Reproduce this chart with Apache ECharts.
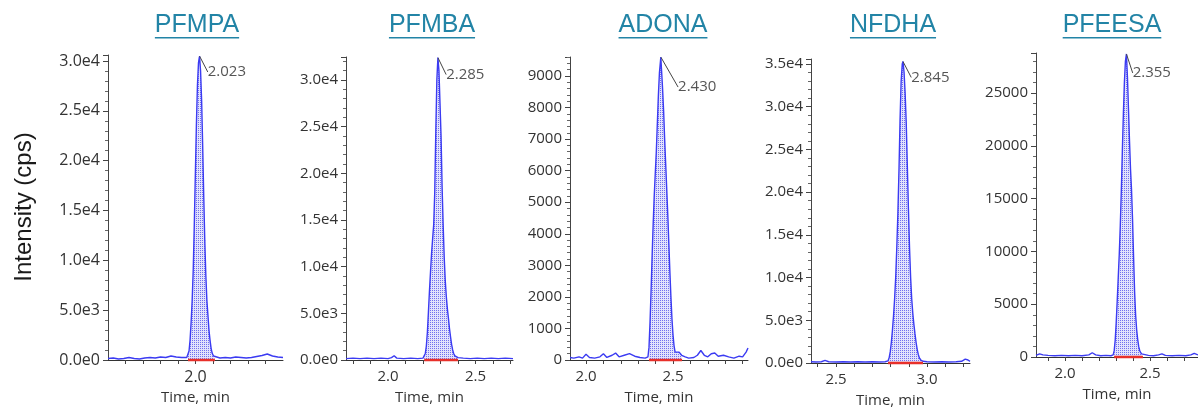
<!DOCTYPE html>
<html>
<head>
<meta charset="utf-8">
<script src="https://cdn.jsdelivr.net/npm/echarts@6/dist/echarts.min.js"></script>
<style>
  html, body { margin: 0; padding: 0; background: #fff; }
  #chart { width: 1198px; height: 408px; }
</style>
</head>
<body>
<div id="chart"></div>
<script>
const compounds = ["PFMPA", "PFMBA", "ADONA", "NFDHA", "PFEESA"];
const rtLabels = ["2.023", "2.285", "2.430", "2.845", "2.355"];

// [time (min), intensity (cps)]
const pfmpa = [
  [1.50,150],[1.53,200],[1.56,100],[1.59,150],[1.62,250],[1.65,150],[1.68,100],[1.71,200],[1.74,250],
  [1.77,200],[1.80,300],[1.83,250],[1.86,400],[1.89,300],[1.92,250],[1.95,250],
  [1.957,450],[1.963,900],[1.969,2000],[1.975,3800],[1.981,6000],[1.987,9000],[1.993,13500],
  [1.999,18500],[2.005,23500],[2.011,27500],[2.017,29800],[2.023,30500],[2.029,29000],[2.035,26000],
  [2.041,21500],[2.047,16500],[2.053,12000],[2.059,8500],[2.065,6000],[2.071,4500],[2.077,3000],
  [2.083,2000],[2.089,1200],[2.095,700],[2.103,400],[2.111,250],
  [2.14,200],[2.17,250],[2.20,200],[2.23,300],[2.26,250],[2.29,200],[2.32,250],[2.35,350],
  [2.38,450],[2.41,600],[2.44,400],[2.47,300],[2.50,250]
];
const pfmba = [
  [1.76,150],[1.80,200],[1.84,150],[1.88,200],[1.92,150],[1.96,200],[2.00,150],[2.02,250],
  [2.035,450],[2.05,200],[2.09,150],[2.13,200],[2.17,150],[2.20,200],
  [2.207,300],[2.213,700],[2.219,1500],[2.225,3000],[2.231,5200],[2.237,7500],[2.243,9500],
  [2.249,11500],[2.255,13000],[2.261,14500],[2.267,18000],[2.273,24500],[2.279,30000],[2.285,32400],
  [2.291,31000],[2.297,27500],[2.303,24000],[2.309,18500],[2.315,14500],[2.321,11000],[2.327,8500],
  [2.333,6800],[2.339,5500],[2.345,4500],[2.351,3400],[2.357,2500],[2.363,1700],[2.369,1100],
  [2.375,700],[2.382,450],[2.39,300],[2.40,250],
  [2.43,200],[2.47,150],[2.51,200],[2.55,150],[2.59,200],[2.63,150],[2.67,200],[2.714,150]
];
const adona = [
  [1.908,80],[1.93,60],[1.96,100],[1.98,60],[2.00,180],[2.02,80],[2.05,60],[2.08,100],[2.10,200],
  [2.12,80],[2.15,150],[2.17,220],[2.19,100],[2.22,150],[2.25,200],[2.28,120],[2.31,80],[2.34,60],
  [2.356,100],[2.362,400],[2.368,1200],[2.374,2200],[2.380,3300],[2.386,4300],[2.392,5200],
  [2.398,5900],[2.404,6600],[2.410,7500],[2.416,8400],[2.422,9100],[2.430,9600],[2.434,9200],
  [2.440,8600],[2.446,7900],[2.452,7000],[2.458,6200],[2.464,5400],[2.470,4600],[2.476,3700],
  [2.482,2800],[2.488,2000],[2.494,1300],[2.500,800],[2.506,450],[2.512,250],[2.52,200],
  [2.535,250],[2.55,150],[2.57,100],
  [2.59,60],[2.62,80],[2.64,150],[2.66,300],[2.68,150],[2.70,100],[2.72,200],[2.74,220],
  [2.76,120],[2.79,150],[2.82,100],[2.85,60],[2.88,120],[2.90,100],[2.92,250],[2.931,380]
];
const nfdha = [
  [2.363,150],[2.39,120],[2.42,150],[2.44,300],[2.46,150],[2.50,120],[2.54,150],[2.58,120],
  [2.62,150],[2.66,120],[2.70,150],[2.74,120],[2.77,150],
  [2.786,250],[2.792,600],[2.798,1300],[2.804,2400],[2.810,3800],[2.816,5500],[2.822,7500],
  [2.828,10000],[2.834,13500],[2.840,17500],[2.846,22500],[2.852,28500],[2.858,33000],
  [2.864,35000],[2.868,35300],[2.874,34000],[2.880,31500],[2.886,28000],[2.892,23000],
  [2.898,18000],[2.904,13500],[2.910,10000],[2.916,7500],[2.922,5800],[2.928,4500],[2.934,3400],
  [2.940,2400],[2.946,1600],[2.952,1000],[2.958,600],[2.966,350],[2.978,200],
  [3.00,150],[3.04,120],[3.08,150],[3.12,120],[3.16,150],[3.19,200],[3.21,450],[3.225,350],[3.236,200]
];
const pfeesa = [
  [1.829,150],[1.85,300],[1.87,200],[1.90,150],[1.94,120],[1.98,150],[2.02,120],[2.06,150],
  [2.10,120],[2.14,200],[2.16,400],[2.18,200],[2.21,120],[2.24,150],[2.27,120],
  [2.283,200],[2.289,600],[2.295,1600],[2.301,3300],[2.307,5400],[2.313,7600],[2.319,9800],
  [2.325,12500],[2.331,15800],[2.337,19500],[2.343,23000],[2.349,26000],[2.355,28000],
  [2.361,28700],[2.367,26500],[2.373,23500],[2.379,20500],[2.385,17800],[2.391,15800],
  [2.397,13000],[2.403,9500],[2.409,6200],[2.415,4000],[2.421,2600],[2.427,1700],[2.433,1000],
  [2.440,550],[2.45,300],[2.46,200],
  [2.49,150],[2.52,120],[2.55,200],[2.57,300],[2.59,150],[2.63,120],[2.67,150],[2.71,120],
  [2.74,200],[2.76,350],[2.782,200]
];
const traces = [pfmpa, pfmba, adona, nfdha, pfeesa];

// integration window (peak start / end, min)
const peakStart = [1.957, 2.207, 2.362, 2.786, 2.289];
const peakEnd = [2.111, 2.40, 2.552, 2.978, 2.458];

// tick labels
const xLabels = [[2.0], [2.0, 2.5], [2.0, 2.5], [2.5, 3.0], [2.0, 2.5]];
const yStep = [5000, 5000, 1000, 5000, 5000];
const sciFormat = [true, true, false, true, false];

// panel layout
const panels = [
  { left: 108, top: 55, width: 175, height: 305, xMin: 1.5, xMax: 2.5, yMax: 30600, cx: 197, font: 16, lab: [8, 16] },
  { left: 346, top: 57, width: 167, height: 303, xMin: 1.76, xMax: 2.714, yMax: 32464, cx: 432, font: 15, lab: [8, 17] },
  { left: 570, top: 57, width: 178, height: 303, xMin: 1.908, xMax: 2.931, yMax: 9602, cx: 663, font: 15, lab: [17, 30] },
  { left: 811, top: 59, width: 159, height: 304, xMin: 2.363, xMax: 3.236, yMax: 35585, cx: 893, font: 15, lab: [8, 16] },
  { left: 1036, top: 53, width: 162, height: 304, xMin: 1.829, xMax: 2.782, yMax: 28788, cx: 1112, font: 15, lab: [6, 19] },
];

const titleColor = "#2284a6";
const lineBlue = "#3b3bf2";
const tickFont = '"Open Sans", "DejaVu Sans", sans-serif';

// dotted fill pattern
const pat = document.createElement("canvas");
pat.width = 2;
pat.height = 2;
const pctx = pat.getContext("2d");
pctx.fillStyle = "#e2e2fc";
pctx.fillRect(0, 0, 2, 2);
pctx.fillStyle = "#7070ee";
pctx.fillRect(0, 0, 1, 1);

const measure = document.createElement("canvas").getContext("2d");
const titleFont = '25px "Liberation Sans", Arial, sans-serif';
measure.font = titleFont;

const grid = [], xAxis = [], yAxis = [], series = [], graphic = [];

panels.forEach((p, i) => {
  grid.push({ left: p.left, top: p.top, width: p.width, height: p.height, containLabel: false, outerBoundsMode: "none" });

  const ticks = [];
  for (let k = Math.ceil(p.xMin * 10 + 0.01); k / 10 < p.xMax - 0.005; k++) ticks.push(k / 10);

  xAxis.push({
    gridIndex: i,
    type: "value",
    min: p.xMin,
    max: p.xMax,
    name: "Time, min",
    nameLocation: "middle",
    nameGap: 30,
    nameTextStyle: { fontFamily: tickFont, fontSize: 15, color: "#333" },
    axisLine: { show: true, onZero: false, lineStyle: { color: "#333", width: 1 } },
    axisTick: { show: true, length: 4, customValues: ticks, lineStyle: { color: "#444" } },
    axisLabel: {
      customValues: xLabels[i],
      margin: 9,
      fontFamily: tickFont,
      fontSize: p.font,
      color: "#333",
      formatter: (v) => v.toFixed(1),
    },
    splitLine: { show: false },
  });

  yAxis.push({
    gridIndex: i,
    type: "value",
    min: 0,
    max: p.yMax,
    interval: yStep[i],
    axisLine: { show: true, lineStyle: { color: "#444", width: 1 } },
    axisTick: { show: true, length: 5, lineStyle: { color: "#444" } },
    minorTick: { show: true, splitNumber: 5, length: 3, lineStyle: { color: "#666" } },
    axisLabel: {
      showMaxLabel: false,
      margin: 8,
      fontFamily: tickFont,
      fontSize: p.font,
      color: "#333",
      formatter: (v) =>
        sciFormat[i] ? (v === 0 ? "0.0e0" : v.toExponential(1).replace("+", "")) : String(v),
    },
    splitLine: { show: false },
  });

  const data = traces[i];
  const inPeak = data.filter((d) => d[0] >= peakStart[i] - 1e-9 && d[0] <= peakEnd[i] + 1e-9);
  const apex = data.reduce((a, b) => (b[1] > a[1] ? b : a));

  series.push({
    type: "line",
    xAxisIndex: i,
    yAxisIndex: i,
    data: inPeak,
    symbol: "none",
    lineStyle: { width: 0 },
    areaStyle: { color: { image: pat, repeat: "repeat" }, opacity: 1 },
    silent: true,
    z: 2,
  });
  series.push({
    type: "line",
    xAxisIndex: i,
    yAxisIndex: i,
    data: data,
    symbol: "none",
    lineStyle: { color: lineBlue, width: 1.4 },
    silent: true,
    z: 3,
  });
  series.push({
    type: "line",
    xAxisIndex: i,
    yAxisIndex: i,
    data: [[peakStart[i], 0], [peakEnd[i], 0]],
    symbol: "none",
    clip: false,
    lineStyle: { color: "#e8302a", width: 2.5 },
    silent: true,
    z: 4,
  });
  series.push({
    type: "scatter",
    xAxisIndex: i,
    yAxisIndex: i,
    data: [apex],
    symbolSize: 0.5,
    itemStyle: { color: "rgba(0,0,0,0)" },
    label: {
      show: true,
      position: "right",
      distance: 0,
      formatter: rtLabels[i],
      fontFamily: tickFont,
      fontSize: 15,
      color: "#2a2a2a",
    },
    labelLayout: { dx: p.lab[0], dy: p.lab[1] },
    labelLine: { show: true, lineStyle: { color: "#444", width: 1 } },
    silent: true,
    z: 5,
  });

  const w = measure.measureText(compounds[i]).width;
  graphic.push({
    type: "text",
    left: p.cx - w / 2,
    top: 13,
    style: { text: compounds[i], font: titleFont, fill: titleColor },
  });
  graphic.push({
    type: "rect",
    shape: { x: p.cx - w / 2, y: 37, width: w, height: 1.6 },
    style: { fill: titleColor },
  });
});

graphic.push({
  type: "text",
  x: 24,
  y: 207,
  rotation: Math.PI / 2,
  style: {
    text: "Intensity (cps)",
    font: '24px "Liberation Sans", Arial, sans-serif',
    fill: "#1a1a1a",
    align: "center",
    verticalAlign: "middle",
  },
});

const chart = echarts.init(document.getElementById("chart"));
chart.setOption({
  animation: false,
  backgroundColor: "#fff",
  grid: grid,
  xAxis: xAxis,
  yAxis: yAxis,
  series: series,
  graphic: graphic,
});
</script>
</body>
</html>
